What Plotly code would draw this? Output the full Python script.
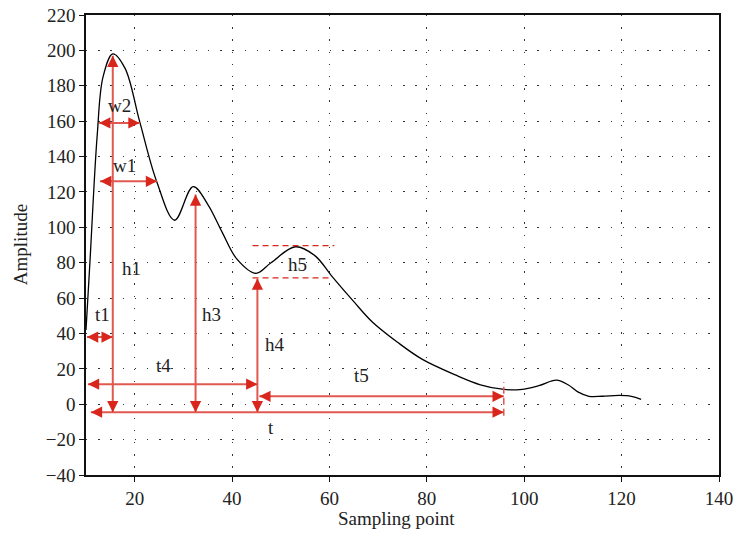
import plotly.graph_objects as go

# waveform
sample_x = [10, 10.8, 12.3, 13.5, 15.5, 18, 21, 24.5, 28.2, 32, 35, 38, 41, 44.9, 48, 53, 57,
            60.6, 65, 68.8, 74, 79, 86, 91, 95.5, 99, 103, 106.6, 109, 111, 113.3, 116, 119.5,
            122, 124]
amplitude = [42, 80, 152, 185, 198, 190, 160, 126, 104, 123, 113, 97, 82, 74, 80, 89, 84,
             72, 58, 46.5, 35, 25.5, 16.4, 11, 8.5, 8.2, 10.5, 13.6, 11, 7, 4.5, 4.5, 5,
             4.5, 2.8]

x_ticks = [20, 40, 60, 80, 100, 120, 140]
y_ticks = list(range(-40, 221, 20))

# double headed dimension arrows: (x_start, y_start, x_end, y_end)
arrows = [
    (15.5, -4.5, 15.5, 197),    # h1
    (32.5, -4.5, 32.5, 118.5),  # h3
    (45.2, -4.5, 45.2, 71),     # h4
    (11.0, -4.5, 95.8, -4.5),   # t
    (10.4, 11.3, 45.2, 11.3),   # t4
    (45.6, 4.5, 95.8, 4.5),     # t5
    (10.2, 38, 15.5, 38),       # t1
    (12.7, 159, 21.0, 159),     # w2
    (12.9, 126, 24.6, 126),     # w1
]

labels = ["h1", "h3", "h4", "h5", "t", "t4", "t5", "t1", "w2", "w1"]
label_x = [19.4, 35.8, 48.8, 53.5, 48, 26, 66.6, 13.3, 16.8, 18]
label_y = [76.5, 51, 33.5, 79, -13, 22, 16.5, 51, 169, 135]

# h5 dashed reference levels
h5_levels = [89.6, 71.4]
h5_x = [(44.2, 61.0), (44.2, 60.6)]

RED = "#d8261c"
LINE_RED = "#e05850"
FONT = "Liberation Serif"
HEAD = 11  # pixel length of the tail behind each head

fig = go.Figure()
fig.add_trace(go.Scatter(x=sample_x, y=amplitude, mode="lines",
                         line=dict(color="black", width=1.3, shape="spline", smoothing=1.0),
                         hoverinfo="skip", showlegend=False))


def head(x, y, dx, dy):
    # dx, dy: pixel offset of tail from tip
    fig.add_annotation(x=x, y=y, ax=dx, ay=dy, xref="x", yref="y", text="",
                       showarrow=True, arrowhead=2, arrowsize=1.5, arrowwidth=1.5,
                       arrowcolor=RED, standoff=0)


for x0, y0, x1, y1 in arrows:
    fig.add_shape(type="line", x0=x0, x1=x1, y0=y0, y1=y1, xref="x", yref="y",
                  line=dict(color=LINE_RED, width=2))
    if x0 == x1:
        head(x1, y1, 0, HEAD)
        head(x0, y0, 0, -HEAD)
    else:
        head(x1, y1, -HEAD, 0)
        head(x0, y0, HEAD, 0)

for lvl, (xa, xb) in zip(h5_levels, h5_x):
    fig.add_shape(type="line", x0=xa, x1=xb, y0=lvl, y1=lvl, xref="x", yref="y",
                  line=dict(color=RED, width=1.3, dash="6px,4px"))
fig.add_shape(type="line", x0=95.8, x1=95.8, y0=-6.5, y1=12.5, xref="x", yref="y",
              line=dict(color=LINE_RED, width=1.5, dash="7px,4px"))

for t, lx, ly in zip(labels, label_x, label_y):
    fig.add_annotation(x=lx, y=ly, text=t, showarrow=False,
                       font=dict(family=FONT, size=19, color="#222"))

axis_common = dict(showline=True, linecolor="#111", linewidth=1.5, mirror=True,
                   ticks="outside", ticklen=5, tickcolor="#111", tickwidth=1.2,
                   showgrid=True, gridcolor="#333", gridwidth=1.4, griddash="1.4px,10.8px",
                   zeroline=False, automargin=False, ticklabeloverflow="allow",
                   tickfont=dict(family=FONT, size=19, color="#222"))

fig.update_xaxes(range=[10, 140], tickvals=x_ticks, **axis_common)
fig.update_yaxes(range=[-40, 220], tickvals=y_ticks, **axis_common)

fig.add_annotation(x=0.49, y=-0.095, xref="paper", yref="paper",
                   xanchor="center", yanchor="middle",
                   text="Sampling point", showarrow=False,
                   font=dict(family=FONT, size=19, color="#222"))
fig.add_annotation(x=-0.104, y=0.5, xref="paper", yref="paper", textangle=-90,
                   xanchor="center", yanchor="middle",
                   text="Amplitude", showarrow=False,
                   font=dict(family=FONT, size=19, color="#222"))

# page body keeps an 8px margin, so the figure is sized to fit inside it
fig.update_layout(width=729, height=522,
                  margin=dict(l=78, r=18, t=7, b=55, autoexpand=False),
                  plot_bgcolor="white", paper_bgcolor="white", showlegend=False)

fig.write_html("out.html")
